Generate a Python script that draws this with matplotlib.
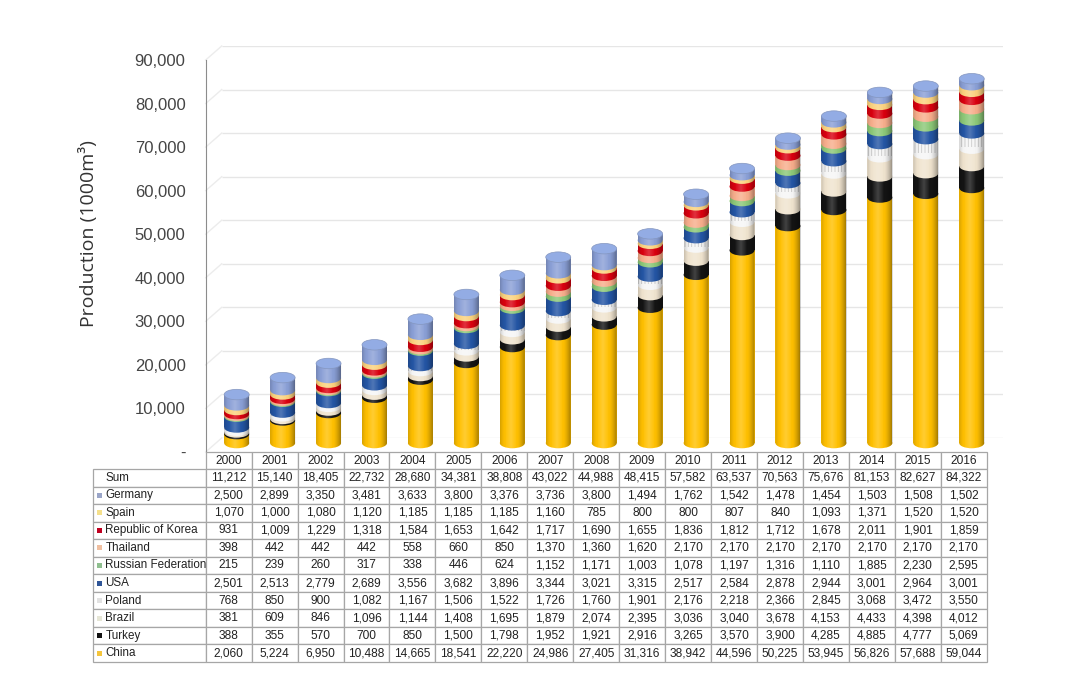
import numpy as np
import matplotlib
matplotlib.use("Agg")
import matplotlib.pyplot as plt
from matplotlib.patches import Ellipse, Rectangle, PathPatch
from matplotlib.path import Path

years = list(range(2000, 2017))
totals = [11212, 15140, 18405, 22732, 28680, 34381, 38808, 43022, 44988, 48415,
          57582, 63537, 70563, 75676, 81153, 82627, 84322]
china = [2060, 5224, 6950, 10488, 14665, 18541, 22220, 24986, 27405, 31316,
         38942, 44596, 50225, 53945, 56826, 57688, 59044]
turkey = [388, 355, 570, 700, 850, 1500, 1798, 1952, 1921, 2916,
          3265, 3570, 3900, 4285, 4885, 4777, 5069]
brazil = [381, 609, 846, 1096, 1144, 1408, 1695, 1879, 2074, 2395,
          3036, 3040, 3678, 4153, 4433, 4398, 4012]
poland = [768, 850, 900, 1082, 1167, 1506, 1522, 1726, 1760, 1901,
          2176, 2218, 2366, 2845, 3068, 3472, 3550]
usa = [2501, 2513, 2779, 2689, 3556, 3682, 3896, 3344, 3021, 3315,
       2517, 2584, 2878, 2944, 3001, 2964, 3001]
russia = [215, 239, 260, 317, 338, 446, 624, 1152, 1171, 1003,
          1078, 1197, 1316, 1110, 1885, 2230, 2595]
thailand = [398, 442, 442, 442, 558, 660, 850, 1370, 1360, 1620,
            2170, 2170, 2170, 2170, 2170, 2170, 2170]
korea = [931, 1009, 1229, 1318, 1584, 1653, 1642, 1717, 1690, 1655,
         1836, 1812, 1712, 1678, 2011, 1901, 1859]
spain = [1070, 1000, 1080, 1120, 1185, 1185, 1185, 1160, 785, 800,
         800, 807, 840, 1093, 1371, 1520, 1520]
germany = [2500, 2899, 3350, 3481, 3633, 3800, 3376, 3736, 3800, 1494,
           1762, 1542, 1478, 1454, 1503, 1508, 1502]

# bottom to top, as stacked
names = ["China", "Turkey", "Brazil", "Poland", "USA", "Russian Federation",
         "Thailand", "Republic of Korea", "Spain", "Germany"]
series = [china, turkey, brazil, poland, usa, russia, thailand, korea, spain, germany]
colors = ["#ffc000", "#141414", "#f0e4cf", "#f6f6f6", "#2455a4", "#8cc878",
          "#f7ae8c", "#d9000f", "#fbd27e", "#8a9fd6"]
key_colors = ["#f5c53c", "#111111", "#e6e6d6", "#e2e2e2", "#2f5597", "#8fbf8f",
              "#f0bfa0", "#c00020", "#f5e08c", "#9aa5c8"]
yticks = np.arange(0, 100000, 10000)

W, H = 1092, 678
plt.rcParams["font.family"] = ["Liberation Sans", "DejaVu Sans"]
plt.rcParams["hatch.linewidth"] = 0.6
fig = plt.figure(figsize=(W / 100, H / 100), dpi=100)


def px_axes(left, top, right, bottom, **kw):
    return fig.add_axes([left / W, 1 - bottom / H, (right - left) / W, (bottom - top) / H], **kw)


# tick axis, the front plane of the 3D chart
tick_left, tick_right = 205.7, 986.7
ax_tick = px_axes(tick_left, 60, tick_right, 452)
ax_tick.set_xlim(-0.5, 16.5)
ax_tick.set_ylim(0, 90000)
ax_tick.set_xticks([])
ax_tick.set_yticks(yticks)
ax_tick.set_yticklabels(["-"] + [f"{v:,}" for v in yticks[1:]], fontsize=12, color="#444444")
ax_tick.tick_params(axis="y", length=0, pad=14.5)
for s in ax_tick.spines.values():
    s.set_visible(False)
ax_tick.patch.set_alpha(0)
ax_tick.spines["left"].set_visible(True)
ax_tick.spines["left"].set_color("#8c8c8c")
ax_tick.spines["left"].set_linewidth(0.8)
ax_tick.text(-0.15, 0.556, "Production (1000m³)", transform=ax_tick.transAxes, rotation=90,
             ha="center", va="center", family="Open Sans", fontsize=14, color="#333333")

# back wall gridlines, offset up and to the right
off_x, off_y = 16, 14
ax_wall = px_axes(tick_left + off_x, 60 - off_y, tick_right + off_x, 452 - off_y)
ax_wall.set_xlim(0, 1)
ax_wall.set_ylim(0, 90000)
ax_wall.axis("off")
ax_wall.hlines(yticks, 0, 1, color="#e6e6e6", lw=1)
# depth lines from the front plane back to the wall
dx = off_x / (tick_right - tick_left) * 17
dy = off_y / 392 * 90000
for v in yticks:
    ax_tick.plot([-0.5, -0.5 + dx], [v, v + dy], color="#ececec", lw=1, clip_on=False, zorder=1)

# cylinders
y_scale = 0.00432  # px per unit
base_px = 443
ax = px_axes(tick_left + 8, base_px - 90000 * y_scale, tick_right + 8, base_px + 3000 * y_scale)
ax.set_xlim(-0.5, 16.5)
ax.set_ylim(-3000, 90000)
ax.axis("off")
ax.patch.set_alpha(0)

bar_w = 25 / 45.94
cap_h = 10.5 / y_scale

# dark at both sides, bright just left of the middle
u = np.linspace(0, 1, 64)
dark = np.clip((np.abs(u - 0.42) - 0.22) / 0.36, 0, 1) ** 1.6 * 0.42
light = np.clip(1 - np.abs(u - 0.42) / 0.25, 0, 1) * 0.2
shade = np.zeros((1, 64, 4))
shade[0, :, :3] = np.where(dark[:, None] > 0, 0.0, 1.0)
shade[0, :, 3] = dark + light

for i in range(len(years)):
    base = 0
    x0 = i - bar_w / 2
    for s, c, name in zip(series, colors, names):
        v = s[i]
        ax.add_patch(Ellipse((i, base), bar_w, cap_h, fc=c, ec="none", zorder=3))
        ax.add_patch(Rectangle((x0, base), bar_w, v, fc=c, ec="none", zorder=3))
        if name == "Poland":
            ax.add_patch(Rectangle((x0, base + v * 0.1), bar_w, v * 0.9, fc="none", ec="#c4c4c4",
                                   hatch="|||||", lw=0, zorder=3))
        base += v
    # outline of the whole cylinder, used to clip the shading
    k = 0.5523
    rx, ry = bar_w / 2, cap_h / 2
    verts = [(i - rx, base), (i - rx, 0),
             (i - rx, -ry * k), (i - rx * k, -ry), (i, -ry),
             (i + rx * k, -ry), (i + rx, -ry * k), (i + rx, 0),
             (i + rx, base), (i - rx, base)]
    codes = [Path.MOVETO, Path.LINETO, Path.CURVE4, Path.CURVE4, Path.CURVE4,
             Path.CURVE4, Path.CURVE4, Path.CURVE4, Path.LINETO, Path.CLOSEPOLY]
    clip = PathPatch(Path(verts, codes), fc="none", ec="none", transform=ax.transData)
    ax.add_patch(clip)
    im = ax.imshow(shade, extent=(i - rx, i + rx, -ry, base), aspect="auto", zorder=4,
                   interpolation="bilinear")
    im.set_clip_path(clip)
    ax.add_patch(Ellipse((i, base), bar_w, cap_h, fc="#93ace4", ec="#8496bf", lw=0.5, zorder=5))
ax.set_xlim(-0.5, 16.5)
ax.set_ylim(-3000, 90000)

# data table under the chart
ax_tab = px_axes(93, 452, tick_right, 662)
ax_tab.axis("off")
rows = [("Sum", totals)] + [(n, s) for n, s in zip(names[::-1], series[::-1])]
cell_text = [[""] + [str(y) for y in years]]
for label, vals in rows:
    cell_text.append([label] + [f"{v:,}" for v in vals])
first_w = (tick_left - 93) / (tick_right - 93)
col_w = [first_w] + [(1 - first_w) / 17] * 17
tab = ax_tab.table(cellText=cell_text, colWidths=col_w, bbox=[0, 0, 1, 1], cellLoc="center")
tab.auto_set_font_size(False)
tab.set_fontsize(8.6)
row_h = [17.0] + [193 / 11] * 11
for (r, c), cell in tab.get_celld().items():
    cell.set_edgecolor("#a6a6a6")
    cell.set_linewidth(0.9)
    cell.set_height(row_h[r] / 210)
    cell.get_text().set_color("#222222")
    if c == 0:
        cell.get_text().set_ha("left")
        cell.get_text().set_fontsize(8.4)
        cell.PAD = 0.11
tab[0, 0].set_visible(False)

# legend keys in the label column
for r, c in enumerate(key_colors[::-1]):
    y_px = 469 + (r + 1.5) * 193 / 11
    fig.add_artist(Rectangle((97 / W, 1 - (y_px + 2.5) / H), 5 / W, 5 / H, fc=c, ec="none",
                             transform=fig.transFigure))

fig.savefig("out.png", dpi=100)
